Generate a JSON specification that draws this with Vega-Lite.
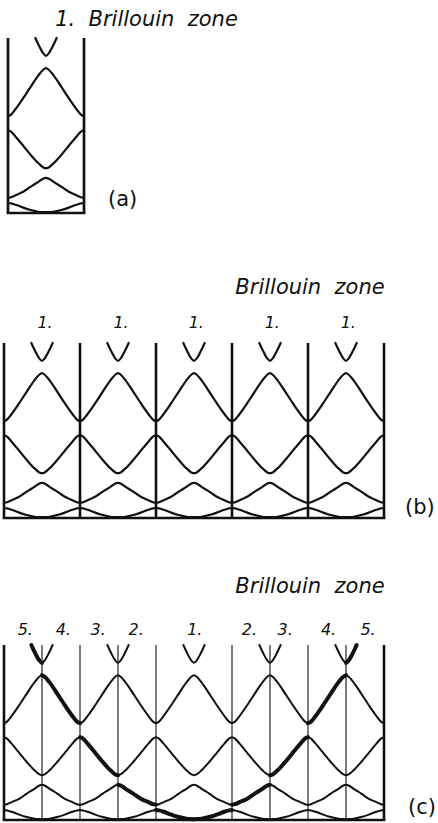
{
"$schema": "https://vega.github.io/schema/vega-lite/v6.json",
"background": "white",
"padding": 0,
"spacing": 0,
"bounds": "flush",
"config": {
  "view": {"stroke": null},
  "axis": {"disable": true},
  "line": {"interpolate": "monotone", "color": "#111", "strokeCap": "round", "strokeJoin": "round"},
  "rule": {"color": "#111"},
  "text": {"font": "DejaVu Sans", "color": "#111"}
},
"datasets": {
  "bands": [
    {"curve":"1","k":-2.5,"E":0.25},{"curve":"1","k":-2.46,"E":0.24},{"curve":"1","k":-2.4,"E":0.206},{"curve":"1","k":-2.3,"E":0.135},{"curve":"1","k":-2.2,"E":0.075},{"curve":"1","k":-2.1,"E":0.032},{"curve":"1","k":-2.04,"E":0.022},{"curve":"1","k":-2,"E":0.02},{"curve":"1","k":-1.96,"E":0.022},{"curve":"1","k":-1.9,"E":0.032},{"curve":"1","k":-1.8,"E":0.075},{"curve":"1","k":-1.7,"E":0.135},{"curve":"1","k":-1.6,"E":0.206},{"curve":"1","k":-1.54,"E":0.24},
    {"curve":"1","k":-1.5,"E":0.25},{"curve":"1","k":-1.46,"E":0.24},{"curve":"1","k":-1.4,"E":0.206},{"curve":"1","k":-1.3,"E":0.135},{"curve":"1","k":-1.2,"E":0.075},{"curve":"1","k":-1.1,"E":0.032},{"curve":"1","k":-1.04,"E":0.022},{"curve":"1","k":-1,"E":0.02},{"curve":"1","k":-0.96,"E":0.022},{"curve":"1","k":-0.9,"E":0.032},{"curve":"1","k":-0.8,"E":0.075},{"curve":"1","k":-0.7,"E":0.135},{"curve":"1","k":-0.6,"E":0.206},{"curve":"1","k":-0.54,"E":0.24},
    {"curve":"1","k":-0.5,"E":0.25},{"curve":"1","k":-0.46,"E":0.24},{"curve":"1","k":-0.4,"E":0.206},{"curve":"1","k":-0.3,"E":0.135},{"curve":"1","k":-0.2,"E":0.075},{"curve":"1","k":-0.1,"E":0.032},{"curve":"1","k":-0.04,"E":0.022},{"curve":"1","k":0,"E":0.02},{"curve":"1","k":0.04,"E":0.022},{"curve":"1","k":0.1,"E":0.032},{"curve":"1","k":0.2,"E":0.075},{"curve":"1","k":0.3,"E":0.135},{"curve":"1","k":0.4,"E":0.206},{"curve":"1","k":0.46,"E":0.24},
    {"curve":"1","k":0.5,"E":0.25},{"curve":"1","k":0.54,"E":0.24},{"curve":"1","k":0.6,"E":0.206},{"curve":"1","k":0.7,"E":0.135},{"curve":"1","k":0.8,"E":0.075},{"curve":"1","k":0.9,"E":0.032},{"curve":"1","k":0.96,"E":0.022},{"curve":"1","k":1,"E":0.02},{"curve":"1","k":1.04,"E":0.022},{"curve":"1","k":1.1,"E":0.032},{"curve":"1","k":1.2,"E":0.075},{"curve":"1","k":1.3,"E":0.135},{"curve":"1","k":1.4,"E":0.206},{"curve":"1","k":1.46,"E":0.24},
    {"curve":"1","k":1.5,"E":0.25},{"curve":"1","k":1.54,"E":0.24},{"curve":"1","k":1.6,"E":0.206},{"curve":"1","k":1.7,"E":0.135},{"curve":"1","k":1.8,"E":0.075},{"curve":"1","k":1.9,"E":0.032},{"curve":"1","k":1.96,"E":0.022},{"curve":"1","k":2,"E":0.02},{"curve":"1","k":2.04,"E":0.022},{"curve":"1","k":2.1,"E":0.032},{"curve":"1","k":2.2,"E":0.075},{"curve":"1","k":2.3,"E":0.135},{"curve":"1","k":2.4,"E":0.206},{"curve":"1","k":2.46,"E":0.24},
    {"curve":"1","k":2.5,"E":0.25},

    {"curve":"2","k":-2.5,"E":0.38},{"curve":"2","k":-2.46,"E":0.395},{"curve":"2","k":-2.4,"E":0.445},{"curve":"2","k":-2.3,"E":0.53},{"curve":"2","k":-2.2,"E":0.66},{"curve":"2","k":-2.1,"E":0.78},{"curve":"2","k":-2.04,"E":0.857},{"curve":"2","k":-2,"E":0.88},{"curve":"2","k":-1.96,"E":0.857},{"curve":"2","k":-1.9,"E":0.78},{"curve":"2","k":-1.8,"E":0.66},{"curve":"2","k":-1.7,"E":0.53},{"curve":"2","k":-1.6,"E":0.445},{"curve":"2","k":-1.54,"E":0.395},
    {"curve":"2","k":-1.5,"E":0.38},{"curve":"2","k":-1.46,"E":0.395},{"curve":"2","k":-1.4,"E":0.445},{"curve":"2","k":-1.3,"E":0.53},{"curve":"2","k":-1.2,"E":0.66},{"curve":"2","k":-1.1,"E":0.78},{"curve":"2","k":-1.04,"E":0.857},{"curve":"2","k":-1,"E":0.88},{"curve":"2","k":-0.96,"E":0.857},{"curve":"2","k":-0.9,"E":0.78},{"curve":"2","k":-0.8,"E":0.66},{"curve":"2","k":-0.7,"E":0.53},{"curve":"2","k":-0.6,"E":0.445},{"curve":"2","k":-0.54,"E":0.395},
    {"curve":"2","k":-0.5,"E":0.38},{"curve":"2","k":-0.46,"E":0.395},{"curve":"2","k":-0.4,"E":0.445},{"curve":"2","k":-0.3,"E":0.53},{"curve":"2","k":-0.2,"E":0.66},{"curve":"2","k":-0.1,"E":0.78},{"curve":"2","k":-0.04,"E":0.857},{"curve":"2","k":0,"E":0.88},{"curve":"2","k":0.04,"E":0.857},{"curve":"2","k":0.1,"E":0.78},{"curve":"2","k":0.2,"E":0.66},{"curve":"2","k":0.3,"E":0.53},{"curve":"2","k":0.4,"E":0.445},{"curve":"2","k":0.46,"E":0.395},
    {"curve":"2","k":0.5,"E":0.38},{"curve":"2","k":0.54,"E":0.395},{"curve":"2","k":0.6,"E":0.445},{"curve":"2","k":0.7,"E":0.53},{"curve":"2","k":0.8,"E":0.66},{"curve":"2","k":0.9,"E":0.78},{"curve":"2","k":0.96,"E":0.857},{"curve":"2","k":1,"E":0.88},{"curve":"2","k":1.04,"E":0.857},{"curve":"2","k":1.1,"E":0.78},{"curve":"2","k":1.2,"E":0.66},{"curve":"2","k":1.3,"E":0.53},{"curve":"2","k":1.4,"E":0.445},{"curve":"2","k":1.46,"E":0.395},
    {"curve":"2","k":1.5,"E":0.38},{"curve":"2","k":1.54,"E":0.395},{"curve":"2","k":1.6,"E":0.445},{"curve":"2","k":1.7,"E":0.53},{"curve":"2","k":1.8,"E":0.66},{"curve":"2","k":1.9,"E":0.78},{"curve":"2","k":1.96,"E":0.857},{"curve":"2","k":2,"E":0.88},{"curve":"2","k":2.04,"E":0.857},{"curve":"2","k":2.1,"E":0.78},{"curve":"2","k":2.2,"E":0.66},{"curve":"2","k":2.3,"E":0.53},{"curve":"2","k":2.4,"E":0.445},{"curve":"2","k":2.46,"E":0.395},
    {"curve":"2","k":2.5,"E":0.38},

    {"curve":"3","k":-2.5,"E":2.07},{"curve":"3","k":-2.46,"E":2.035},{"curve":"3","k":-2.4,"E":1.908},{"curve":"3","k":-2.3,"E":1.68},{"curve":"3","k":-2.2,"E":1.45},{"curve":"3","k":-2.1,"E":1.243},{"curve":"3","k":-2.04,"E":1.146},{"curve":"3","k":-2,"E":1.12},{"curve":"3","k":-1.96,"E":1.146},{"curve":"3","k":-1.9,"E":1.243},{"curve":"3","k":-1.8,"E":1.45},{"curve":"3","k":-1.7,"E":1.68},{"curve":"3","k":-1.6,"E":1.908},{"curve":"3","k":-1.54,"E":2.035},
    {"curve":"3","k":-1.5,"E":2.07},{"curve":"3","k":-1.46,"E":2.035},{"curve":"3","k":-1.4,"E":1.908},{"curve":"3","k":-1.3,"E":1.68},{"curve":"3","k":-1.2,"E":1.45},{"curve":"3","k":-1.1,"E":1.243},{"curve":"3","k":-1.04,"E":1.146},{"curve":"3","k":-1,"E":1.12},{"curve":"3","k":-0.96,"E":1.146},{"curve":"3","k":-0.9,"E":1.243},{"curve":"3","k":-0.8,"E":1.45},{"curve":"3","k":-0.7,"E":1.68},{"curve":"3","k":-0.6,"E":1.908},{"curve":"3","k":-0.54,"E":2.035},
    {"curve":"3","k":-0.5,"E":2.07},{"curve":"3","k":-0.46,"E":2.035},{"curve":"3","k":-0.4,"E":1.908},{"curve":"3","k":-0.3,"E":1.68},{"curve":"3","k":-0.2,"E":1.45},{"curve":"3","k":-0.1,"E":1.243},{"curve":"3","k":-0.04,"E":1.146},{"curve":"3","k":0,"E":1.12},{"curve":"3","k":0.04,"E":1.146},{"curve":"3","k":0.1,"E":1.243},{"curve":"3","k":0.2,"E":1.45},{"curve":"3","k":0.3,"E":1.68},{"curve":"3","k":0.4,"E":1.908},{"curve":"3","k":0.46,"E":2.035},
    {"curve":"3","k":0.5,"E":2.07},{"curve":"3","k":0.54,"E":2.035},{"curve":"3","k":0.6,"E":1.908},{"curve":"3","k":0.7,"E":1.68},{"curve":"3","k":0.8,"E":1.45},{"curve":"3","k":0.9,"E":1.243},{"curve":"3","k":0.96,"E":1.146},{"curve":"3","k":1,"E":1.12},{"curve":"3","k":1.04,"E":1.146},{"curve":"3","k":1.1,"E":1.243},{"curve":"3","k":1.2,"E":1.45},{"curve":"3","k":1.3,"E":1.68},{"curve":"3","k":1.4,"E":1.908},{"curve":"3","k":1.46,"E":2.035},
    {"curve":"3","k":1.5,"E":2.07},{"curve":"3","k":1.54,"E":2.035},{"curve":"3","k":1.6,"E":1.908},{"curve":"3","k":1.7,"E":1.68},{"curve":"3","k":1.8,"E":1.45},{"curve":"3","k":1.9,"E":1.243},{"curve":"3","k":1.96,"E":1.146},{"curve":"3","k":2,"E":1.12},{"curve":"3","k":2.04,"E":1.146},{"curve":"3","k":2.1,"E":1.243},{"curve":"3","k":2.2,"E":1.45},{"curve":"3","k":2.3,"E":1.68},{"curve":"3","k":2.4,"E":1.908},{"curve":"3","k":2.46,"E":2.035},
    {"curve":"3","k":2.5,"E":2.07},

    {"curve":"4","k":-2.5,"E":2.42},{"curve":"4","k":-2.46,"E":2.46},{"curve":"4","k":-2.4,"E":2.6},{"curve":"4","k":-2.3,"E":2.87},{"curve":"4","k":-2.2,"E":3.16},{"curve":"4","k":-2.1,"E":3.44},{"curve":"4","k":-2.04,"E":3.575},{"curve":"4","k":-2,"E":3.62},{"curve":"4","k":-1.96,"E":3.575},{"curve":"4","k":-1.9,"E":3.44},{"curve":"4","k":-1.8,"E":3.16},{"curve":"4","k":-1.7,"E":2.87},{"curve":"4","k":-1.6,"E":2.6},{"curve":"4","k":-1.54,"E":2.46},
    {"curve":"4","k":-1.5,"E":2.42},{"curve":"4","k":-1.46,"E":2.46},{"curve":"4","k":-1.4,"E":2.6},{"curve":"4","k":-1.3,"E":2.87},{"curve":"4","k":-1.2,"E":3.16},{"curve":"4","k":-1.1,"E":3.44},{"curve":"4","k":-1.04,"E":3.575},{"curve":"4","k":-1,"E":3.62},{"curve":"4","k":-0.96,"E":3.575},{"curve":"4","k":-0.9,"E":3.44},{"curve":"4","k":-0.8,"E":3.16},{"curve":"4","k":-0.7,"E":2.87},{"curve":"4","k":-0.6,"E":2.6},{"curve":"4","k":-0.54,"E":2.46},
    {"curve":"4","k":-0.5,"E":2.42},{"curve":"4","k":-0.46,"E":2.46},{"curve":"4","k":-0.4,"E":2.6},{"curve":"4","k":-0.3,"E":2.87},{"curve":"4","k":-0.2,"E":3.16},{"curve":"4","k":-0.1,"E":3.44},{"curve":"4","k":-0.04,"E":3.575},{"curve":"4","k":0,"E":3.62},{"curve":"4","k":0.04,"E":3.575},{"curve":"4","k":0.1,"E":3.44},{"curve":"4","k":0.2,"E":3.16},{"curve":"4","k":0.3,"E":2.87},{"curve":"4","k":0.4,"E":2.6},{"curve":"4","k":0.46,"E":2.46},
    {"curve":"4","k":0.5,"E":2.42},{"curve":"4","k":0.54,"E":2.46},{"curve":"4","k":0.6,"E":2.6},{"curve":"4","k":0.7,"E":2.87},{"curve":"4","k":0.8,"E":3.16},{"curve":"4","k":0.9,"E":3.44},{"curve":"4","k":0.96,"E":3.575},{"curve":"4","k":1,"E":3.62},{"curve":"4","k":1.04,"E":3.575},{"curve":"4","k":1.1,"E":3.44},{"curve":"4","k":1.2,"E":3.16},{"curve":"4","k":1.3,"E":2.87},{"curve":"4","k":1.4,"E":2.6},{"curve":"4","k":1.46,"E":2.46},
    {"curve":"4","k":1.5,"E":2.42},{"curve":"4","k":1.54,"E":2.46},{"curve":"4","k":1.6,"E":2.6},{"curve":"4","k":1.7,"E":2.87},{"curve":"4","k":1.8,"E":3.16},{"curve":"4","k":1.9,"E":3.44},{"curve":"4","k":1.96,"E":3.575},{"curve":"4","k":2,"E":3.62},{"curve":"4","k":2.04,"E":3.575},{"curve":"4","k":2.1,"E":3.44},{"curve":"4","k":2.2,"E":3.16},{"curve":"4","k":2.3,"E":2.87},{"curve":"4","k":2.4,"E":2.6},{"curve":"4","k":2.46,"E":2.46},
    {"curve":"4","k":2.5,"E":2.42},

    {"curve":"5a","k":-2.14,"E":4.375},{"curve":"5a","k":-2.11,"E":4.25},{"curve":"5a","k":-2.08,"E":4.135},{"curve":"5a","k":-2.04,"E":4.0},{"curve":"5a","k":-2,"E":3.93},{"curve":"5a","k":-1.96,"E":4.0},{"curve":"5a","k":-1.92,"E":4.135},{"curve":"5a","k":-1.89,"E":4.25},{"curve":"5a","k":-1.86,"E":4.375},
    {"curve":"5b","k":-1.14,"E":4.375},{"curve":"5b","k":-1.11,"E":4.25},{"curve":"5b","k":-1.08,"E":4.135},{"curve":"5b","k":-1.04,"E":4.0},{"curve":"5b","k":-1,"E":3.93},{"curve":"5b","k":-0.96,"E":4.0},{"curve":"5b","k":-0.92,"E":4.135},{"curve":"5b","k":-0.89,"E":4.25},{"curve":"5b","k":-0.86,"E":4.375},
    {"curve":"5c","k":-0.14,"E":4.375},{"curve":"5c","k":-0.11,"E":4.25},{"curve":"5c","k":-0.08,"E":4.135},{"curve":"5c","k":-0.04,"E":4.0},{"curve":"5c","k":0,"E":3.93},{"curve":"5c","k":0.04,"E":4.0},{"curve":"5c","k":0.08,"E":4.135},{"curve":"5c","k":0.11,"E":4.25},{"curve":"5c","k":0.14,"E":4.375},
    {"curve":"5d","k":0.86,"E":4.375},{"curve":"5d","k":0.89,"E":4.25},{"curve":"5d","k":0.92,"E":4.135},{"curve":"5d","k":0.96,"E":4.0},{"curve":"5d","k":1,"E":3.93},{"curve":"5d","k":1.04,"E":4.0},{"curve":"5d","k":1.08,"E":4.135},{"curve":"5d","k":1.11,"E":4.25},{"curve":"5d","k":1.14,"E":4.375},
    {"curve":"5e","k":1.86,"E":4.375},{"curve":"5e","k":1.89,"E":4.25},{"curve":"5e","k":1.92,"E":4.135},{"curve":"5e","k":1.96,"E":4.0},{"curve":"5e","k":2,"E":3.93},{"curve":"5e","k":2.04,"E":4.0},{"curve":"5e","k":2.08,"E":4.135},{"curve":"5e","k":2.11,"E":4.25},{"curve":"5e","k":2.14,"E":4.375}
  ],
  "freeElectron": [
    {"curve":"h5L","k":-2.14,"E":4.375},{"curve":"h5L","k":-2.11,"E":4.25},{"curve":"h5L","k":-2.08,"E":4.135},{"curve":"h5L","k":-2.04,"E":4.0},{"curve":"h5L","k":-2,"E":3.93},
    {"curve":"h4L","k":-2,"E":3.62},{"curve":"h4L","k":-1.96,"E":3.575},{"curve":"h4L","k":-1.9,"E":3.44},{"curve":"h4L","k":-1.8,"E":3.16},{"curve":"h4L","k":-1.7,"E":2.87},{"curve":"h4L","k":-1.6,"E":2.6},{"curve":"h4L","k":-1.54,"E":2.46},{"curve":"h4L","k":-1.5,"E":2.42},
    {"curve":"h3L","k":-1.5,"E":2.07},{"curve":"h3L","k":-1.46,"E":2.035},{"curve":"h3L","k":-1.4,"E":1.908},{"curve":"h3L","k":-1.3,"E":1.68},{"curve":"h3L","k":-1.2,"E":1.45},{"curve":"h3L","k":-1.1,"E":1.243},{"curve":"h3L","k":-1.04,"E":1.146},{"curve":"h3L","k":-1,"E":1.12},
    {"curve":"h2L","k":-1,"E":0.88},{"curve":"h2L","k":-0.96,"E":0.857},{"curve":"h2L","k":-0.9,"E":0.78},{"curve":"h2L","k":-0.8,"E":0.66},{"curve":"h2L","k":-0.7,"E":0.53},{"curve":"h2L","k":-0.6,"E":0.445},{"curve":"h2L","k":-0.54,"E":0.395},{"curve":"h2L","k":-0.5,"E":0.38},
    {"curve":"h1","k":-0.5,"E":0.25},{"curve":"h1","k":-0.46,"E":0.24},{"curve":"h1","k":-0.4,"E":0.206},{"curve":"h1","k":-0.3,"E":0.135},{"curve":"h1","k":-0.2,"E":0.075},{"curve":"h1","k":-0.1,"E":0.032},{"curve":"h1","k":-0.04,"E":0.022},{"curve":"h1","k":0,"E":0.02},{"curve":"h1","k":0.04,"E":0.022},{"curve":"h1","k":0.1,"E":0.032},{"curve":"h1","k":0.2,"E":0.075},{"curve":"h1","k":0.3,"E":0.135},{"curve":"h1","k":0.4,"E":0.206},{"curve":"h1","k":0.46,"E":0.24},{"curve":"h1","k":0.5,"E":0.25},
    {"curve":"h2R","k":0.5,"E":0.38},{"curve":"h2R","k":0.54,"E":0.395},{"curve":"h2R","k":0.6,"E":0.445},{"curve":"h2R","k":0.7,"E":0.53},{"curve":"h2R","k":0.8,"E":0.66},{"curve":"h2R","k":0.9,"E":0.78},{"curve":"h2R","k":0.96,"E":0.857},{"curve":"h2R","k":1,"E":0.88},
    {"curve":"h3R","k":1,"E":1.12},{"curve":"h3R","k":1.04,"E":1.146},{"curve":"h3R","k":1.1,"E":1.243},{"curve":"h3R","k":1.2,"E":1.45},{"curve":"h3R","k":1.3,"E":1.68},{"curve":"h3R","k":1.4,"E":1.908},{"curve":"h3R","k":1.46,"E":2.035},{"curve":"h3R","k":1.5,"E":2.07},
    {"curve":"h4R","k":1.5,"E":2.42},{"curve":"h4R","k":1.54,"E":2.46},{"curve":"h4R","k":1.6,"E":2.6},{"curve":"h4R","k":1.7,"E":2.87},{"curve":"h4R","k":1.8,"E":3.16},{"curve":"h4R","k":1.9,"E":3.44},{"curve":"h4R","k":1.96,"E":3.575},{"curve":"h4R","k":2,"E":3.62},
    {"curve":"h5R","k":2,"E":3.93},{"curve":"h5R","k":2.04,"E":4.0},{"curve":"h5R","k":2.08,"E":4.135},{"curve":"h5R","k":2.11,"E":4.25},{"curve":"h5R","k":2.14,"E":4.375}
  ],
  "walls": [
    {"panel":"a","kind":"wall","k":-0.5,"E":0,"Etop":4.375},{"panel":"a","kind":"wall","k":0.5,"E":0,"Etop":4.375},
    {"panel":"b","kind":"wall","k":-2.5,"E":0,"Etop":4.375},{"panel":"b","kind":"wall","k":-1.5,"E":0,"Etop":4.375},{"panel":"b","kind":"wall","k":-0.5,"E":0,"Etop":4.375},{"panel":"b","kind":"wall","k":0.5,"E":0,"Etop":4.375},{"panel":"b","kind":"wall","k":1.5,"E":0,"Etop":4.375},{"panel":"b","kind":"wall","k":2.5,"E":0,"Etop":4.375},
    {"panel":"c","kind":"wall","k":-2.5,"E":0,"Etop":4.375},{"panel":"c","kind":"wall","k":2.5,"E":0,"Etop":4.375},
    {"panel":"c","kind":"thin","k":-2,"E":0,"Etop":4.375},{"panel":"c","kind":"thin","k":-1.5,"E":0,"Etop":4.375},{"panel":"c","kind":"thin","k":-1,"E":0,"Etop":4.375},{"panel":"c","kind":"thin","k":-0.5,"E":0,"Etop":4.375},{"panel":"c","kind":"thin","k":0.5,"E":0,"Etop":4.375},{"panel":"c","kind":"thin","k":1,"E":0,"Etop":4.375},{"panel":"c","kind":"thin","k":1.5,"E":0,"Etop":4.375},{"panel":"c","kind":"thin","k":2,"E":0,"Etop":4.375}
  ],
  "floors": [
    {"panel":"a","k":-0.5,"k2":0.5,"E":0},
    {"panel":"b","k":-2.5,"k2":2.5,"E":0},
    {"panel":"c","k":-2.5,"k2":2.5,"E":0}
  ],
  "labels": [
    {"panel":"a","kind":"title","k":1.322,"E":4.675,"text":"1.\u00a0 Brillouin\u00a0 zone"},
    {"panel":"a","kind":"tag","k":0.816,"E":0.175,"text":"(a)"},
    {"panel":"b","kind":"title","k":1.526,"E":5.6,"text":"Brillouin\u00a0 zone"},
    {"panel":"b","kind":"zone","k":-1.96,"E":4.75,"text":"1."},
    {"panel":"b","kind":"zone","k":-0.96,"E":4.75,"text":"1."},
    {"panel":"b","kind":"zone","k":0.03,"E":4.75,"text":"1."},
    {"panel":"b","kind":"zone","k":1.03,"E":4.75,"text":"1."},
    {"panel":"b","kind":"zone","k":2.03,"E":4.75,"text":"1."},
    {"panel":"b","kind":"tag","k":2.776,"E":0.1,"text":"(b)"},
    {"panel":"c","kind":"title","k":1.526,"E":5.675,"text":"Brillouin\u00a0 zone"},
    {"panel":"c","kind":"zone","k":-2.22,"E":4.625,"text":"5."},
    {"panel":"c","kind":"zone","k":-1.72,"E":4.625,"text":"4."},
    {"panel":"c","kind":"zone","k":-1.26,"E":4.625,"text":"3."},
    {"panel":"c","kind":"zone","k":-0.76,"E":4.625,"text":"2."},
    {"panel":"c","kind":"zone","k":0.01,"E":4.625,"text":"1."},
    {"panel":"c","kind":"zone","k":0.73,"E":4.625,"text":"2."},
    {"panel":"c","kind":"zone","k":1.2,"E":4.625,"text":"3."},
    {"panel":"c","kind":"zone","k":1.77,"E":4.625,"text":"4."},
    {"panel":"c","kind":"zone","k":2.29,"E":4.625,"text":"5."},
    {"panel":"c","kind":"tag","k":2.816,"E":0.15,"text":"(c)"}
  ]
},
"vconcat": [
  {
    "width": 438, "height": 213,
    "encoding": {
      "x": {"field": "k", "type": "quantitative", "scale": {"domain": [-0.6053, 5.1579], "nice": false, "zero": false}, "axis": null},
      "y": {"field": "E", "type": "quantitative", "scale": {"domain": [0, 5.325], "nice": false, "zero": false}, "axis": null}
    },
    "layer": [
      {"data": {"name": "bands"}, "transform": [{"filter": "datum.k >= -0.5 && datum.k <= 0.5"}],
       "mark": {"type": "line", "strokeWidth": 2.2}, "encoding": {"detail": {"field": "curve"}}},
      {"data": {"name": "walls"}, "transform": [{"filter": "datum.panel == 'a'"}],
       "mark": {"type": "rule", "strokeWidth": 2.7},
       "encoding": {"y2": {"field": "Etop"}}},
      {"data": {"name": "floors"}, "transform": [{"filter": "datum.panel == 'a'"}],
       "mark": {"type": "rule", "strokeWidth": 2.7, "strokeCap": "square"},
       "encoding": {"x2": {"field": "k2"}}},
      {"data": {"name": "labels"}, "transform": [{"filter": "datum.panel == 'a' && datum.kind == 'title'"}],
       "mark": {"type": "text", "fontSize": 21, "fontStyle": "italic", "align": "center", "baseline": "alphabetic"},
       "encoding": {"text": {"field": "text"}}},
      {"data": {"name": "labels"}, "transform": [{"filter": "datum.panel == 'a' && datum.kind == 'tag'"}],
       "mark": {"type": "text", "fontSize": 21, "align": "left", "baseline": "alphabetic"},
       "encoding": {"text": {"field": "text"}}}
    ]
  },
  {
    "width": 438, "height": 305,
    "encoding": {
      "x": {"field": "k", "type": "quantitative", "scale": {"domain": [-2.5526, 3.2105], "nice": false, "zero": false}, "axis": null},
      "y": {"field": "E", "type": "quantitative", "scale": {"domain": [0, 7.625], "nice": false, "zero": false}, "axis": null}
    },
    "layer": [
      {"data": {"name": "bands"}, "mark": {"type": "line", "strokeWidth": 2.2}, "encoding": {"detail": {"field": "curve"}}},
      {"data": {"name": "walls"}, "transform": [{"filter": "datum.panel == 'b'"}],
       "mark": {"type": "rule", "strokeWidth": 2.6},
       "encoding": {"y2": {"field": "Etop"}}},
      {"data": {"name": "floors"}, "transform": [{"filter": "datum.panel == 'b'"}],
       "mark": {"type": "rule", "strokeWidth": 2.6, "strokeCap": "square"},
       "encoding": {"x2": {"field": "k2"}}},
      {"data": {"name": "labels"}, "transform": [{"filter": "datum.panel == 'b' && datum.kind == 'title'"}],
       "mark": {"type": "text", "fontSize": 21, "fontStyle": "italic", "align": "center", "baseline": "alphabetic"},
       "encoding": {"text": {"field": "text"}}},
      {"data": {"name": "labels"}, "transform": [{"filter": "datum.panel == 'b' && datum.kind == 'zone'"}],
       "mark": {"type": "text", "fontSize": 16, "fontStyle": "italic", "align": "center", "baseline": "alphabetic"},
       "encoding": {"text": {"field": "text"}}},
      {"data": {"name": "labels"}, "transform": [{"filter": "datum.panel == 'b' && datum.kind == 'tag'"}],
       "mark": {"type": "text", "fontSize": 21, "align": "left", "baseline": "alphabetic"},
       "encoding": {"text": {"field": "text"}}}
    ]
  },
  {
    "width": 438, "height": 302,
    "encoding": {
      "x": {"field": "k", "type": "quantitative", "scale": {"domain": [-2.5526, 3.2105], "nice": false, "zero": false}, "axis": null},
      "y": {"field": "E", "type": "quantitative", "scale": {"domain": [0, 7.55], "nice": false, "zero": false}, "axis": null}
    },
    "layer": [
      {"data": {"name": "walls"}, "transform": [{"filter": "datum.panel == 'c' && datum.kind == 'thin'"}],
       "mark": {"type": "rule", "strokeWidth": 1.1},
       "encoding": {"y2": {"field": "Etop"}}},
      {"data": {"name": "bands"}, "mark": {"type": "line", "strokeWidth": 2}, "encoding": {"detail": {"field": "curve"}}},
      {"data": {"name": "freeElectron"}, "mark": {"type": "line", "strokeWidth": 4}, "encoding": {"detail": {"field": "curve"}}},
      {"data": {"name": "walls"}, "transform": [{"filter": "datum.panel == 'c' && datum.kind == 'wall'"}],
       "mark": {"type": "rule", "strokeWidth": 2.6},
       "encoding": {"y2": {"field": "Etop"}}},
      {"data": {"name": "floors"}, "transform": [{"filter": "datum.panel == 'c'"}],
       "mark": {"type": "rule", "strokeWidth": 2.6, "strokeCap": "square"},
       "encoding": {"x2": {"field": "k2"}}},
      {"data": {"name": "labels"}, "transform": [{"filter": "datum.panel == 'c' && datum.kind == 'title'"}],
       "mark": {"type": "text", "fontSize": 21, "fontStyle": "italic", "align": "center", "baseline": "alphabetic"},
       "encoding": {"text": {"field": "text"}}},
      {"data": {"name": "labels"}, "transform": [{"filter": "datum.panel == 'c' && datum.kind == 'zone'"}],
       "mark": {"type": "text", "fontSize": 16, "fontStyle": "italic", "align": "center", "baseline": "alphabetic"},
       "encoding": {"text": {"field": "text"}}},
      {"data": {"name": "labels"}, "transform": [{"filter": "datum.panel == 'c' && datum.kind == 'tag'"}],
       "mark": {"type": "text", "fontSize": 21, "align": "left", "baseline": "alphabetic"},
       "encoding": {"text": {"field": "text"}}}
    ]
  }
]
}
